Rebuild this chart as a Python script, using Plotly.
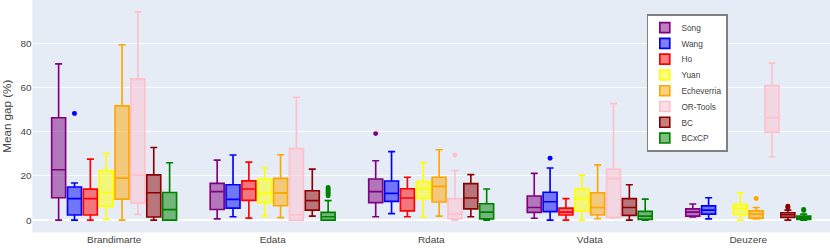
import plotly.graph_objects as go

categories = ["Brandimarte", "Edata", "Rdata", "Vdata", "Deuzere"]
cats4 = categories[:4]

series = ["Song", "Wang", "Ho", "Yuan", "Echeverria", "OR-Tools", "BC", "BCxCP"]
colors = ["purple", "blue", "red", "yellow", "orange", "pink", "darkred", "green"]

# per series: lowerfence, q1, median, q3, upperfence (one value per category)
song_lf = [0.0, 0.5, 1.5, 0.8, 1.4]
song_q1 = [10.1, 4.8, 7.9, 3.5, 1.8]
song_md = [22.8, 12.9, 12.9, 5.7, 3.6]
song_q3 = [46.4, 16.6, 18.6, 10.9, 5.1]
song_uf = [70.8, 27.2, 26.9, 21.2, 7.3]
song_out = [[], [], [39.2], [], []]

wang_lf = [0.0, 1.5, 2.9, 0.0, 0.5]
wang_q1 = [2.3, 5.4, 8.5, 3.8, 2.7]
wang_md = [9.7, 9.4, 12.1, 8.3, 4.5]
wang_q3 = [15.0, 16.0, 17.7, 12.6, 6.4]
wang_uf = [16.8, 29.5, 31.0, 23.6, 10.1]
wang_out = [[48.3], [], [], [28.0], []]

ho_lf = [0.0, 0.9, 1.5, 0.0]
ho_q1 = [2.3, 8.9, 4.2, 2.3]
ho_md = [9.7, 14.1, 10.0, 3.6]
ho_q3 = [14.0, 17.8, 14.2, 5.4]
ho_uf = [27.6, 26.3, 19.4, 9.7]
ho_out = [[], [], [], []]

yuan_lf = [0.3, 1.8, 1.4, 0.0, 0.0]
yuan_q1 = [6.2, 7.9, 9.8, 4.2, 2.4]
yuan_md = [12.5, 12.1, 14.4, 9.8, 5.3]
yuan_q3 = [22.4, 18.6, 17.4, 14.1, 7.1]
yuan_uf = [30.1, 23.6, 26.0, 20.3, 12.4]
yuan_out = [[], [], [], [], []]

eche_lf = [0.0, 1.1, 1.8, 0.6, 0.5]
eche_q1 = [9.5, 6.5, 8.2, 2.3, 0.9]
eche_md = [19.0, 12.3, 15.3, 5.7, 2.7]
eche_q3 = [51.8, 18.9, 19.4, 12.4, 4.2]
eche_uf = [79.5, 29.6, 31.9, 25.0, 5.7]
eche_out = [[], [], [], [], [9.8]]

ort_lf = [2.6, 0.0, 0.0, 0.9, 28.7]
ort_q1 = [7.7, 0.0, 0.6, 1.2, 39.9]
ort_md = [20.4, 2.4, 2.7, 18.8, 46.4]
ort_q3 = [64.0, 32.4, 9.7, 23.1, 61.0]
ort_uf = [94.4, 55.7, 22.4, 52.8, 71.2]
ort_out = [[], [], [29.5], [], []]

bc_lf = [0.0, 1.8, 1.5, 0.0, 0.0]
bc_q1 = [1.4, 4.5, 5.1, 2.1, 1.2]
bc_md = [12.4, 8.8, 10.0, 5.7, 2.4]
bc_q3 = [20.5, 13.3, 16.5, 9.7, 3.3]
bc_uf = [32.9, 23.1, 20.6, 16.0, 4.5]
bc_out = [[], [], [], [], [5.6, 6.3]]

bcx_lf = [0.0, 0.0, 0.0, 0.0, 0.0]
bcx_q1 = [0.0, 0.0, 0.5, 0.3, 0.3]
bcx_md = [4.7, 1.5, 3.6, 1.8, 1.1]
bcx_q3 = [12.5, 3.5, 7.4, 3.9, 1.8]
bcx_uf = [26.0, 8.8, 14.1, 9.5, 2.7]
bcx_out = [[], [11.0, 11.8, 12.5, 13.2, 14.0, 14.8], [], [], [4.3, 4.8]]

stats = [
    (categories, song_lf, song_q1, song_md, song_q3, song_uf, song_out),
    (categories, wang_lf, wang_q1, wang_md, wang_q3, wang_uf, wang_out),
    (cats4, ho_lf, ho_q1, ho_md, ho_q3, ho_uf, ho_out),
    (categories, yuan_lf, yuan_q1, yuan_md, yuan_q3, yuan_uf, yuan_out),
    (categories, eche_lf, eche_q1, eche_md, eche_q3, eche_uf, eche_out),
    (categories, ort_lf, ort_q1, ort_md, ort_q3, ort_uf, ort_out),
    (categories, bc_lf, bc_q1, bc_md, bc_q3, bc_uf, bc_out),
    (categories, bcx_lf, bcx_q1, bcx_md, bcx_q3, bcx_uf, bcx_out),
]

fig = go.Figure()
for name, color, (xs, lf, q1, md, q3, uf, out) in zip(series, colors, stats):
    # sample points per box: the median (inside the box, not drawn) plus the outliers
    samples = [[m] + o for m, o in zip(md, out)]
    fig.add_trace(go.Box(
        name=name, x=xs, y=samples,
        lowerfence=lf, q1=q1, median=md, q3=q3, upperfence=uf,
        boxpoints="outliers",
        line=dict(color=color, width=2),
        marker=dict(color=color, size=6),
    ))

# the chart is laid out at 1000x300 and shown scaled to 830x249
fig.update_layout(
    width=1000, height=300,
    template="plotly",
    font=dict(family="Arial", size=12, color="#444"),
    boxmode="group", boxgap=0.2, boxgroupgap=0.12,
    margin=dict(l=39, r=0, t=0, b=20),
    showlegend=True,
    legend=dict(x=0.77, y=0.94, xanchor="left", yanchor="top",
                bgcolor="white", bordercolor="gray", borderwidth=2,
                font=dict(size=10)),
    yaxis=dict(title=dict(text="Mean gap (%)", font=dict(size=14)),
               range=[-5.6, 99.8], tickvals=[0, 20, 40, 60, 80],
               automargin=False,
               zeroline=True, zerolinecolor="white", zerolinewidth=2),
    xaxis=dict(showgrid=False, automargin=False),
)

post = """
document.documentElement.style.overflow = 'hidden';
document.body.style.margin = '0';
document.body.style.overflow = 'hidden';
var gd = document.getElementById('{plot_id}');
gd.style.transformOrigin = '0 0';
gd.style.transform = 'scale(0.83)';
"""

fig.write_html("out.html", post_script=post, config={"displayModeBar": False})
